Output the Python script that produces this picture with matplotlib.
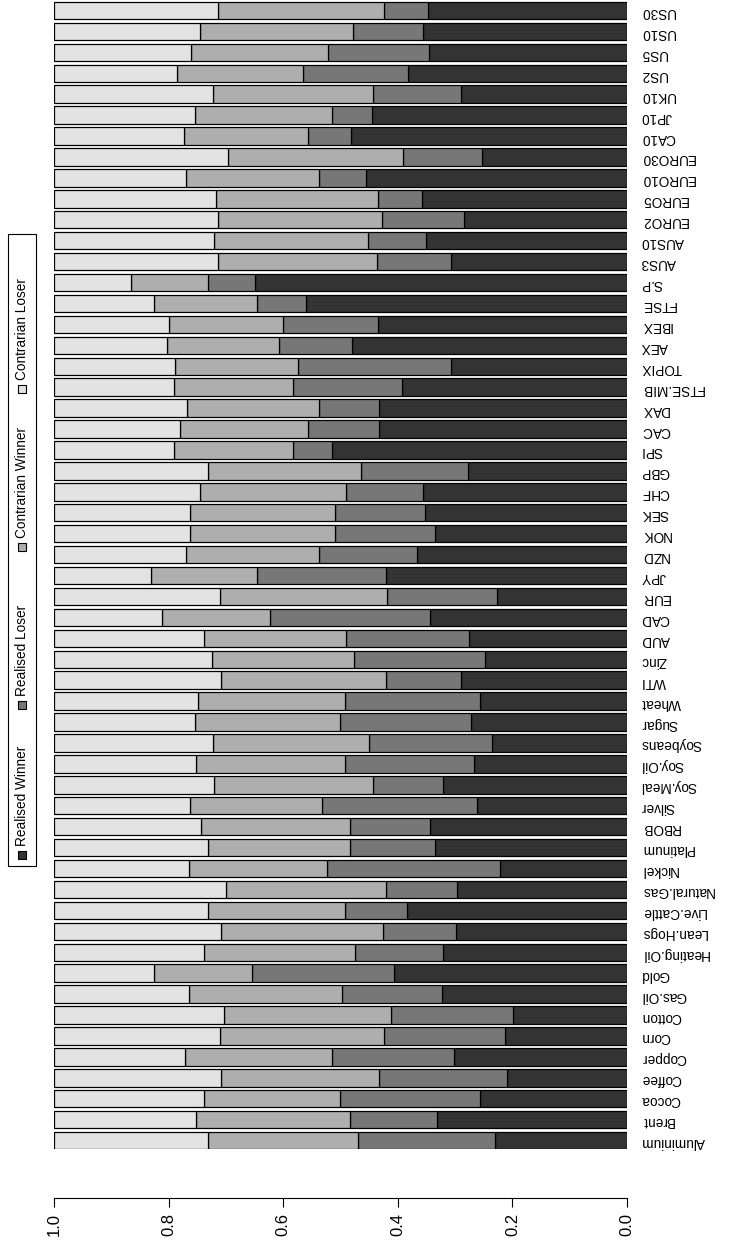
import matplotlib
matplotlib.use("Agg")
import matplotlib.pyplot as plt
from matplotlib.patches import Rectangle

plt.rcParams['font.family'] = ['Liberation Sans', 'DejaVu Sans']

categories = ["Aluminium", "Brent", "Cocoa", "Coffee", "Copper", "Corn", "Cotton",
              "Gas.Oil", "Gold", "Heating.Oil", "Lean.Hogs", "Live.Cattle", "Natural.Gas",
              "Nickel", "Platinum", "RBOB", "Silver", "Soy.Meal", "Soy.Oil", "Soybeans",
              "Sugar", "Wheat", "WTI", "Zinc", "AUD", "CAD", "EUR", "JPY", "NZD", "NOK",
              "SEK", "CHF", "GBP", "SPI", "CAC", "DAX", "FTSE.MIB", "TOPIX", "AEX", "IBEX",
              "FTSE", "S.P", "AUS3", "AUS10", "EURO2", "EURO5", "EURO10", "EURO30", "CA10",
              "JP10", "UK10", "US2", "US5", "US10", "US30"]

realised_winner = [0.231, 0.332, 0.256, 0.210, 0.302, 0.213, 0.199, 0.322, 0.407, 0.321,
                   0.299, 0.384, 0.297, 0.222, 0.335, 0.343, 0.261, 0.321, 0.267, 0.236,
                   0.273, 0.256, 0.290, 0.247, 0.276, 0.344, 0.227, 0.421, 0.367, 0.335,
                   0.352, 0.356, 0.278, 0.515, 0.432, 0.432, 0.392, 0.307, 0.480, 0.435,
                   0.561, 0.649, 0.308, 0.351, 0.284, 0.358, 0.455, 0.253, 0.482, 0.445,
                   0.290, 0.382, 0.345, 0.356, 0.347]
realised_loser = [0.239, 0.151, 0.245, 0.222, 0.213, 0.211, 0.213, 0.175, 0.247, 0.154,
                  0.126, 0.108, 0.123, 0.301, 0.148, 0.140, 0.271, 0.123, 0.225, 0.214,
                  0.228, 0.236, 0.131, 0.230, 0.214, 0.279, 0.191, 0.225, 0.171, 0.174,
                  0.157, 0.134, 0.186, 0.068, 0.124, 0.106, 0.191, 0.268, 0.127, 0.165,
                  0.085, 0.083, 0.129, 0.101, 0.144, 0.076, 0.083, 0.138, 0.074, 0.069,
                  0.154, 0.183, 0.177, 0.122, 0.077]
contrarian_winner = [0.261, 0.269, 0.238, 0.276, 0.256, 0.287, 0.291, 0.267, 0.171, 0.264,
                     0.284, 0.239, 0.279, 0.241, 0.248, 0.260, 0.231, 0.277, 0.260, 0.273,
                     0.253, 0.256, 0.287, 0.247, 0.249, 0.188, 0.293, 0.185, 0.231, 0.254,
                     0.254, 0.256, 0.267, 0.208, 0.224, 0.230, 0.208, 0.213, 0.196, 0.200,
                     0.179, 0.133, 0.277, 0.269, 0.286, 0.284, 0.232, 0.306, 0.217, 0.240,
                     0.278, 0.220, 0.239, 0.268, 0.290]
contrarian_loser = [0.269, 0.248, 0.261, 0.292, 0.229, 0.289, 0.297, 0.236, 0.175, 0.261,
                    0.291, 0.269, 0.301, 0.236, 0.269, 0.257, 0.237, 0.279, 0.248, 0.277,
                    0.246, 0.252, 0.292, 0.276, 0.261, 0.189, 0.289, 0.169, 0.231, 0.237,
                    0.237, 0.254, 0.269, 0.209, 0.220, 0.232, 0.209, 0.212, 0.197, 0.200,
                    0.175, 0.135, 0.286, 0.279, 0.286, 0.282, 0.230, 0.303, 0.227, 0.246,
                    0.278, 0.215, 0.239, 0.254, 0.286]

series_names = ["Realised Winner", "Realised Loser", "Contrarian Winner", "Contrarian Loser"]
series_colors = ["#333333", "#777777", "#AEAEAE", "#E3E3E3"]
value_ticks = [0.0, 0.2, 0.4, 0.6, 0.8, 1.0]

W, H = 752, 1254
fig = plt.figure(figsize=(W / 100, H / 100), dpi=100)

def fx(px):
    return px / W

def fy(py):
    return 1 - py / H

ax_left, ax_right, ax_top, ax_bottom = 54, 627, 0, 1149.3
ax = fig.add_axes([fx(ax_left), fy(ax_bottom), fx(ax_right) - fx(ax_left), fy(ax_top) - fy(ax_bottom)])

positions = [0.7 + 1.2 * i for i in range(len(categories))]
series = [realised_winner, realised_loser, contrarian_winner, contrarian_loser]
left = [0.0] * len(categories)
for vals, col in zip(series, series_colors):
    ax.barh(positions, vals, height=1.0, left=left, color=col,
            edgecolor="black", linewidth=0.9)
    left = [a + b for a, b in zip(left, vals)]

ax.set_xlim(1.0, 0.0)
ax.set_ylim(0.2, 66.1)
for s in ["top", "left", "right"]:
    ax.spines[s].set_visible(False)
ax.spines["bottom"].set_position(("outward", 49 * 0.72))
ax.spines["bottom"].set_bounds(0, 1)
ax.spines["bottom"].set_linewidth(0.8)
ax.set_xticks(value_ticks)
ax.set_xticklabels([f"{v:.1f}" for v in value_ticks], rotation=90, fontsize=12)
ax.tick_params(axis="x", direction="out", length=6.5, width=0.8, pad=4)

ax.yaxis.tick_right()
ax.set_yticks(positions)
ax.set_yticklabels(categories, rotation=180, fontsize=9.8)
ax.tick_params(axis="y", length=0, pad=10)

# legend (drawn rotated, reading bottom to top)
fig.patches.append(Rectangle((fx(8), fy(866)), fx(36) - fx(8), fy(234) - fy(866),
                             transform=fig.transFigure, facecolor="white",
                             edgecolor="black", linewidth=0.8, zorder=5))
sq_y = [855, 705, 547, 389]
txt_y = [846, 696, 538, 380]
sq = 8
for name, col, sy, ty in zip(series_names, series_colors, sq_y, txt_y):
    fig.patches.append(Rectangle((fx(22 - sq / 2), fy(sy + sq / 2)), sq / W, sq / H,
                                 transform=fig.transFigure, facecolor=col,
                                 edgecolor="black", linewidth=0.8, zorder=6))
    fig.text(fx(22), fy(ty), name, rotation=90, rotation_mode="anchor",
             ha="left", va="center", fontsize=9.8, zorder=7)

fig.savefig("out.png", dpi=100)
